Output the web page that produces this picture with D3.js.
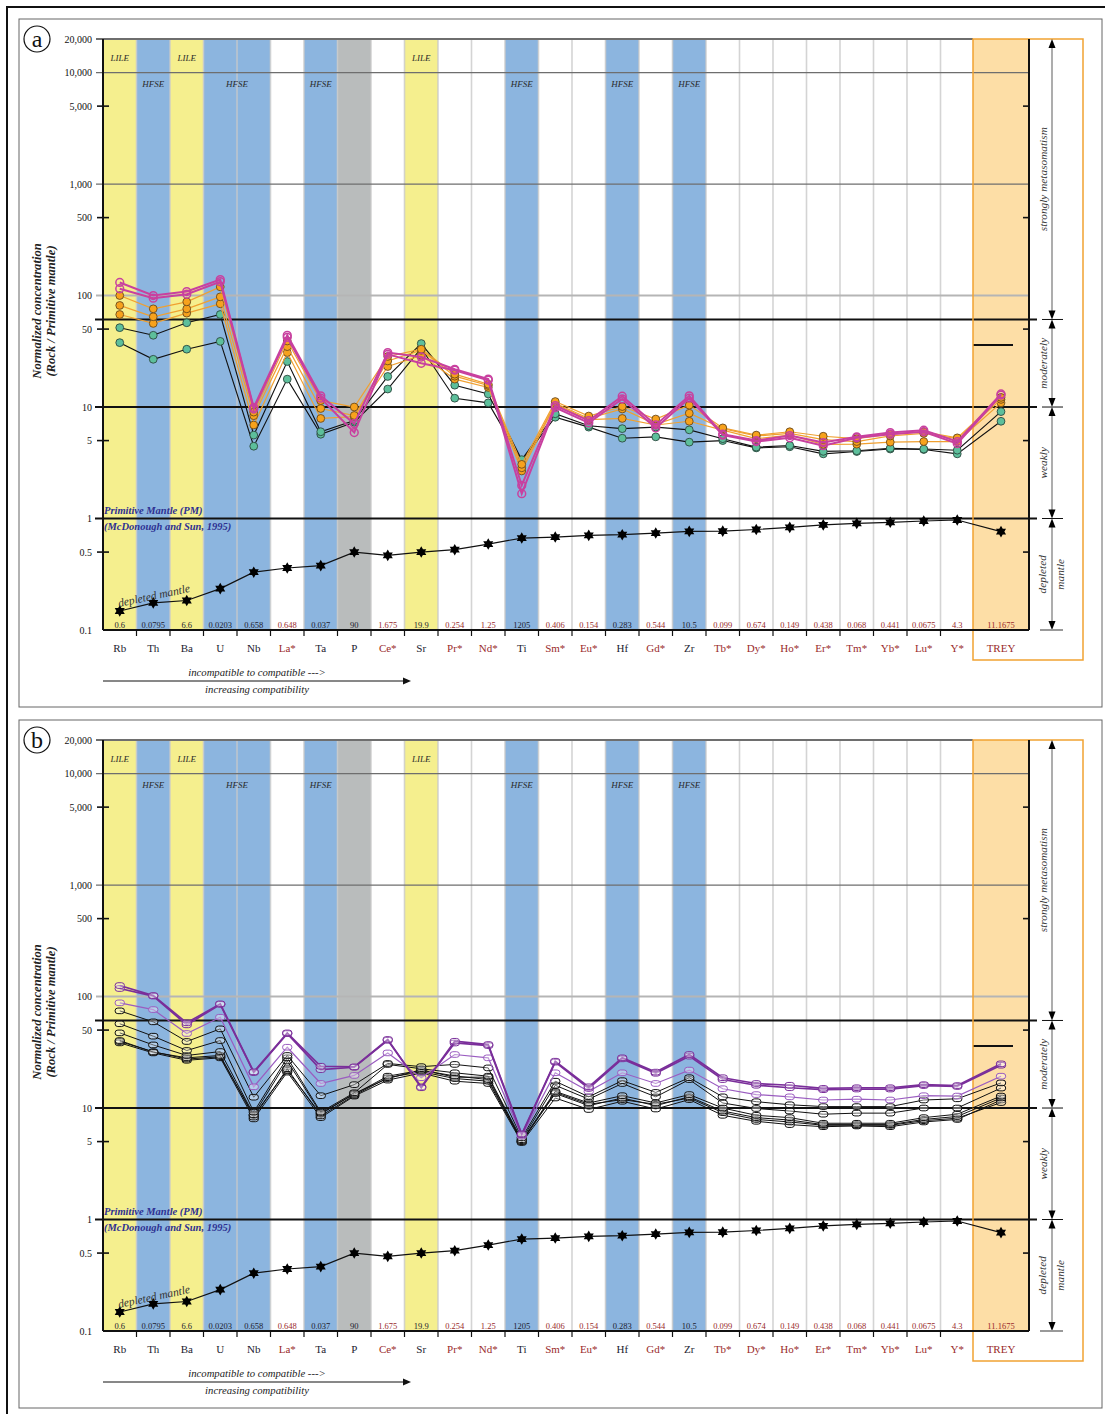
<!DOCTYPE html>
<html>
<head>
<meta charset="utf-8">
<script src="https://cdn.jsdelivr.net/npm/d3@7"></script>
<style>
  body { margin: 0; background: #fff; }
  svg { display: block; }
  text { font-family: "Liberation Serif", "Times New Roman", serif; }
</style>
</head>
<body>
<svg id="chart" width="1105" height="1414"></svg>
<script>
// ---- categories -------------------------------------------------------
const elements = ["Rb","Th","Ba","U","Nb","La*","Ta","P","Ce*","Sr","Pr*","Nd*","Ti","Sm*","Eu*","Hf","Gd*","Zr","Tb*","Dy*","Ho*","Er*","Tm*","Yb*","Lu*","Y*"];
const totalCategory = "TREY";
const allCategories = elements.concat([totalCategory]);

// primitive-mantle normalising values (McDonough & Sun, 1995)
const normLabels = ["0.6","0.0795","6.6","0.0203","0.658","0.648","0.037","90","1.675","19.9","0.254","1.25","1205","0.406","0.154","0.283","0.544","10.5","0.099","0.674","0.149","0.438","0.068","0.441","0.0675","4.3","11.1675"];

// element group of each column
const columnGroups = ["LILE","HFSE","LILE","HFSE","HFSE","","HFSE","P","","LILE","","","HFSE","","","HFSE","","HFSE","","","","","","","",""];

// group captions: [text, first column, last column, row]
const groupCaptions = [
  ["LILE","Rb","Rb",0], ["HFSE","Th","Th",1], ["LILE","Ba","Ba",0],
  ["HFSE","U","Nb",1], ["HFSE","Ta","Ta",1], ["LILE","Sr","Sr",0],
  ["HFSE","Ti","Ti",1], ["HFSE","Hf","Hf",1], ["HFSE","Zr","Zr",1]
];

// y axis
const yTicks = [0.1,0.5,1,5,10,50,100,500,1000,5000,10000,20000];
const yTickLabels = ["0.1","0.5","1","5","10","50","100","500","1,000","5,000","10,000","20,000"];
const yGridValues = [1000,10000];
const yMinorTicks = [0.5,5,50,500,5000];

// metasomatism classes (boundaries)
const classBounds = [20000, 61, 10, 1, 0.1];
const treyMarkValue = 36;

// depleted mantle reference pattern
const depletedMantle = [0.148,0.175,0.184,0.235,0.33,0.36,0.378,0.50,0.467,0.50,0.525,0.59,0.668,0.682,0.706,0.716,0.741,0.766,0.77,0.797,0.833,0.877,0.905,0.925,0.95,0.97,0.762];

// ---- panel (a) samples --------------------------------------------------
const magentaA1 = [131,100,108.6,139,9.9,44,12.6,7.1,30.8,28.1,21.8,17.8,1.98,10.3,7.55,12.5,6.9,12.6,5.7,5.0,5.55,4.8,5.4,5.9,6.2,4.9,13.1];
const magentaA2 = [115,94.6,102.7,133,9.6,42.2,12.0,5.9,29.7,24.7,21.4,17.4,1.67,9.9,7.2,11.8,6.5,12.0,5.6,4.9,5.3,4.5,5.3,5.7,6.0,4.7,12.8];
const orangeA1 = [100,76,87.8,119.6,9.0,39.1,11.4,10.0,28.4,33,19.7,16.0,3.06,11.2,8.3,10.1,7.8,10.4,6.5,5.6,6.0,5.47,5.2,5.7,6.0,5.29,12.2];
const orangeA2 = [81.5,64.5,76,97.3,8.36,34.8,9.7,8.4,25.9,32.3,18.9,15.6,2.85,10.8,7.9,9.6,7.0,8.8,6.4,5.5,5.8,5.1,4.9,5.5,5.8,5.2,11.7];
const orangeA3 = [67.6,56.2,69.5,84.3,6.9,30.8,7.9,8.2,23.1,29.1,17.8,15.0,2.67,10.6,7.7,7.9,6.9,7.45,6.2,5.2,5.6,4.62,4.64,4.84,4.9,4.9,10.9];
const tealA1 = [51.5,44,57,67.6,5.6,25.6,6.0,7.55,18.8,37.1,15.7,13.1,3.37,8.7,6.8,6.4,6.6,6.24,5.2,4.37,4.52,4.0,4.05,4.27,4.2,4.1,9.1];
const tealA2 = [37.8,26.8,33,38.8,4.45,17.8,5.7,7.3,14.5,33.8,12.0,10.9,3.3,8.1,6.6,5.25,5.4,4.84,5.0,4.3,4.4,3.8,3.99,4.2,4.16,3.8,7.45];

// ---- panel (b) samples --------------------------------------------------
const purpleB1 = [125.5,102,58.1,86,21.1,47.2,23.7,23.4,41.2,15.2,39.7,37.1,5.85,26.3,15.5,28.2,21.0,30.2,18.7,16.6,16.0,15.0,15.2,15.2,16.2,15.9,24.9];
const purpleB2 = [118,101,55.7,85,20.8,46.5,22.1,23.2,40.5,15.5,38.3,36.3,5.75,25.8,15.0,27.6,20.5,29.2,18.0,16.0,15.2,14.6,14.8,14.8,15.9,15.6,24.2];
const purpleB3 = [87.8,76.4,46.6,65.2,15.5,35.1,16.6,19.6,31.2,18.7,30.2,28.2,5.6,20.7,14.1,20.7,16.6,21.9,14.9,13.2,12.6,11.8,12.0,11.8,12.9,12.8,19.3];
const blackB1 = [74.4,59.3,39.5,51.3,12.5,29.6,12.9,16.2,25.1,23.5,24.6,22.9,5.4,17.4,12.6,17.6,13.8,18.7,12.6,11.4,10.7,10.3,10.3,10.3,11.8,12.1,16.8];
const blackB2 = [57,44.1,32.8,40.3,9.2,28.2,9.2,13.7,24.6,22.5,20.7,19.3,5.2,16.0,12.0,16.6,12.6,18.0,11.1,9.9,9.4,8.8,9.0,9.0,10,10,15.1];
const blackB3 = [47.2,36.8,29.6,32.1,8.7,26.4,9.0,13.3,19.3,21.8,19.4,18.0,5.1,14.1,11.1,12.9,11.1,13.2,10.0,8.6,8.2,7.3,7.3,7.3,8.2,8.8,12.8];
const blackB4 = [40.3,31.7,28.2,29.6,8.3,22.5,8.5,13.0,18.7,21.2,18.4,17.4,5.0,13.5,10.5,12.3,10.5,12.6,9.4,8.2,7.8,7.1,7.1,7.1,7.9,8.4,12.3];
const blackB5 = [38.4,31.2,26.8,28.2,7.99,21.0,8.2,12.8,17.8,20.6,17.4,16.6,4.9,12.3,9.7,11.5,9.8,11.9,8.6,7.6,7.1,6.8,6.9,6.8,7.5,7.9,11.8];
const blackB6 = [39.5,32,27.5,28.8,8.6,21.7,8.8,13.5,18.4,22,18.9,18.9,5.0,13.8,10.8,11.9,10.8,12.3,9.1,7.9,7.5,7.0,7.0,7.0,7.7,8.1,11.2];

// ---- styles ---------------------------------------------------------------
const groupFill = { LILE: "#f5ef8e", HFSE: "#8cb5df", P: "#b9bcbc", "": "#ffffff" };
const redText = "#9a2b2b", darkText = "#1c1c30", navy = "#2e3192";

const panelA = [
  { values: tealA2, line: "#111", width: 1.1, marker: "circle", fill: "#5dbf9b", stroke: "#2d4a3f" },
  { values: tealA1, line: "#111", width: 1.1, marker: "circle", fill: "#5dbf9b", stroke: "#2d4a3f" },
  { values: orangeA3, line: "#f0a030", width: 1.2, marker: "circle", fill: "#f7a21c", stroke: "#6b4a1c" },
  { values: orangeA2, line: "#f0a030", width: 1.2, marker: "circle", fill: "#f7a21c", stroke: "#6b4a1c" },
  { values: orangeA1, line: "#f0a030", width: 1.2, marker: "circle", fill: "#f7a21c", stroke: "#6b4a1c" },
  { values: magentaA2, line: "#c8409f", width: 2, marker: "ring", fill: "none", stroke: "#c8409f" },
  { values: magentaA1, line: "#c8409f", width: 2, marker: "ring", fill: "none", stroke: "#c8409f" }
];
const panelB = [
  { values: blackB5, line: "#111", width: 1, marker: "pill", fill: "rgba(255,255,255,0.35)", stroke: "#111" },
  { values: blackB6, line: "#111", width: 1, marker: "pill", fill: "rgba(255,255,255,0.35)", stroke: "#111" },
  { values: blackB4, line: "#111", width: 1, marker: "pill", fill: "rgba(255,255,255,0.35)", stroke: "#111" },
  { values: blackB3, line: "#111", width: 1, marker: "pill", fill: "rgba(255,255,255,0.35)", stroke: "#111" },
  { values: blackB2, line: "#111", width: 1, marker: "pill", fill: "rgba(255,255,255,0.35)", stroke: "#111" },
  { values: blackB1, line: "#111", width: 1, marker: "pill", fill: "rgba(255,255,255,0.35)", stroke: "#111" },
  { values: purpleB3, line: "#9a5cc0", width: 1.2, marker: "pill", fill: "rgba(255,255,255,0.35)", stroke: "#9a5cc0" },
  { values: purpleB2, line: "#7a2e9a", width: 1.7, marker: "pill", fill: "rgba(255,255,255,0.35)", stroke: "#7a2e9a" },
  { values: purpleB1, line: "#7a2e9a", width: 1.7, marker: "pill", fill: "rgba(255,255,255,0.35)", stroke: "#7a2e9a" }
];

const svg = d3.select("#chart");

// figure border
svg.append("path").attr("d", "M7,1414 V7 H1105").attr("fill", "none").attr("stroke", "#111").attr("stroke-width", 2);

// six-pointed star used for the depleted-mantle pattern
function hexagram(r) {
  const tri = a0 => [0,1,2].map(k => {
    const a = (a0 + k * 120) * Math.PI / 180;
    return [r * Math.cos(a), r * Math.sin(a)];
  });
  const p = t => "M" + t.map(q => q.join(",")).join("L") + "Z";
  return p(tri(-90)) + p(tri(90));
}

function drawPanel(offset, series, letter) {
  const g = svg.append("g").attr("transform", `translate(0,${offset})`);

  // frame
  g.append("rect").attr("x", 19).attr("y", 19).attr("width", 1083).attr("height", 688)
    .attr("fill", "none").attr("stroke", "#666").attr("stroke-width", 1);

  const y = d3.scaleLog().domain([0.1, 20000]).range([630, 39]);
  const x = d3.scaleBand().domain(elements).range([103, 974]);
  const xT = d3.scaleBand().domain([totalCategory]).range([973, 1029]);
  const cx = k => k === totalCategory ? xT(k) + xT.bandwidth() / 2 : x(k) + x.bandwidth() / 2;
  const top = y(20000), bottom = y(0.1);

  // column backgrounds
  g.selectAll("rect.col").data(elements).join("rect")
    .attr("x", d => x(d)).attr("y", top).attr("width", x.bandwidth()).attr("height", bottom - top)
    .attr("fill", (d, i) => groupFill[columnGroups[i]]);
  g.append("rect").attr("x", xT(totalCategory)).attr("y", top).attr("width", xT.bandwidth()).attr("height", bottom - top)
    .attr("fill", "#fddea6");

  // column separators
  g.selectAll("line.sep").data(elements.slice(1)).join("line")
    .attr("x1", d => x(d)).attr("x2", d => x(d)).attr("y1", top).attr("y2", bottom)
    .attr("stroke", "#c9c9c9").attr("stroke-opacity", 0.8).attr("stroke-width", 1.6);

  // grid lines
  g.selectAll("line.grid").data(yGridValues).join("line")
    .attr("x1", 96).attr("x2", 1029).attr("y1", d => y(d)).attr("y2", d => y(d))
    .attr("stroke", "#6e6e6e").attr("stroke-width", 1.2);
  g.append("line").attr("x1", 96).attr("x2", 1029).attr("y1", y(100)).attr("y2", y(100))
    .attr("stroke", "#b5b5b5").attr("stroke-width", 2);
  g.append("line").attr("x1", 96).attr("x2", 973).attr("y1", y(20000)).attr("y2", y(20000))
    .attr("stroke", "#6e6e6e").attr("stroke-width", 2);

  // class boundaries
  g.selectAll("line.bound").data(classBounds.slice(1, 4)).join("line")
    .attr("x1", 95).attr("x2", 1037).attr("y1", d => y(d)).attr("y2", d => y(d))
    .attr("stroke", "#111").attr("stroke-width", 2);
  g.append("line").attr("x1", 973).attr("x2", 1013).attr("y1", y(treyMarkValue)).attr("y2", y(treyMarkValue))
    .attr("stroke", "#111").attr("stroke-width", 2.2);

  // TREY outline box
  g.append("rect").attr("x", 973).attr("y", top).attr("width", 110).attr("height", 660 - top)
    .attr("fill", "none").attr("stroke", "#f1a232").attr("stroke-width", 1.5);

  // group captions
  g.selectAll("text.cap").data(groupCaptions).join("text")
    .attr("x", d => (x(d[1]) + x(d[2]) + x.bandwidth()) / 2)
    .attr("y", d => d[3] === 0 ? 61 : 87)
    .attr("text-anchor", "middle").attr("font-size", 9).attr("font-style", "italic")
    .attr("fill", "#2a2a2a").text(d => d[0]);

  // primitive mantle note
  g.append("text").attr("x", 104).attr("y", 514).attr("font-size", 10.5).attr("font-weight", "bold")
    .attr("font-style", "italic").attr("fill", navy).text("Primitive Mantle (PM)");
  g.append("text").attr("x", 104).attr("y", 530).attr("font-size", 10.5).attr("font-weight", "bold")
    .attr("font-style", "italic").attr("fill", navy).text("(McDonough and Sun, 1995)");

  // depleted mantle pattern
  const line = d3.line().x((d, i) => cx(allCategories[i])).y(d => y(d));
  g.append("path").datum(depletedMantle).attr("d", line).attr("fill", "none")
    .attr("stroke", "#111").attr("stroke-width", 1.2);
  g.selectAll("path.dm").data(depletedMantle).join("path")
    .attr("transform", (d, i) => `translate(${cx(allCategories[i])},${y(d)})`)
    .attr("d", hexagram(5.8)).attr("fill", "#000");
  g.append("text").attr("transform", "translate(119,607) rotate(-12)")
    .attr("font-size", 11.5).attr("font-style", "italic").attr("fill", "#333").text("depleted mantle");

  // samples
  series.forEach(s => {
    g.append("path").datum(s.values).attr("d", line).attr("fill", "none")
      .attr("stroke", s.line).attr("stroke-width", s.width);
    const m = g.append("g");
    s.values.forEach((v, i) => {
      const px = cx(allCategories[i]), py = y(v);
      if (s.marker === "pill") {
        m.append("rect").attr("x", px - 4.7).attr("y", py - 2.8).attr("width", 9.4).attr("height", 5.6)
          .attr("rx", 2.8).attr("fill", s.fill).attr("stroke", s.stroke).attr("stroke-width", 1);
      } else {
        m.append("circle").attr("cx", px).attr("cy", py).attr("r", 3.9)
          .attr("fill", s.fill).attr("stroke", s.stroke)
          .attr("stroke-width", s.marker === "ring" ? 1.5 : 0.9);
      }
    });
  });

  // axes frame lines
  g.append("line").attr("x1", 103).attr("x2", 103).attr("y1", top).attr("y2", bottom).attr("stroke", "#111").attr("stroke-width", 2);
  g.append("line").attr("x1", 1029).attr("x2", 1029).attr("y1", top).attr("y2", bottom).attr("stroke", "#111").attr("stroke-width", 2);
  g.append("line").attr("x1", 103).attr("x2", 1029).attr("y1", bottom).attr("y2", bottom).attr("stroke", "#111").attr("stroke-width", 2);

  // left axis
  const yAxis = d3.axisLeft(y).tickValues(yTicks).tickSize(0).tickPadding(11)
    .tickFormat(d => yTickLabels[yTicks.indexOf(d)]);
  const ya = g.append("g").attr("transform", "translate(103,0)").call(yAxis);
  ya.select(".domain").remove();
  ya.selectAll("text").attr("font-family", "Liberation Serif, serif").attr("font-size", 10).attr("fill", "#111");
  g.selectAll("line.mt").data(yMinorTicks).join("line")
    .attr("x1", 97).attr("x2", 109).attr("y1", d => y(d)).attr("y2", d => y(d))
    .attr("stroke", "#111").attr("stroke-width", 1.6);
  g.selectAll("line.rt").data(yMinorTicks).join("line")
    .attr("x1", 1023).attr("x2", 1029).attr("y1", d => y(d)).attr("y2", d => y(d))
    .attr("stroke", "#111").attr("stroke-width", 1.6);

  // bottom ticks at column boundaries
  g.selectAll("line.bt").data(elements.slice(1)).join("line")
    .attr("x1", d => x(d)).attr("x2", d => x(d)).attr("y1", bottom).attr("y2", bottom + 6)
    .attr("stroke", "#111").attr("stroke-width", 1.2);

  // normalising values and element names
  const isRed = k => k.includes("*") || k === totalCategory;
  g.selectAll("text.norm").data(allCategories).join("text")
    .attr("x", d => cx(d)).attr("y", 628).attr("text-anchor", "middle").attr("font-size", 8.5)
    .attr("fill", d => isRed(d) ? redText : darkText).text((d, i) => normLabels[i]);
  g.selectAll("text.el").data(allCategories).join("text")
    .attr("x", d => cx(d)).attr("y", 652).attr("text-anchor", "middle").attr("font-size", 11)
    .attr("fill", d => isRed(d) ? redText : darkText).text(d => d);

  // compatibility note
  g.append("text").attr("x", 257).attr("y", 676).attr("text-anchor", "middle").attr("font-size", 10.7)
    .attr("font-style", "italic").attr("fill", "#222").text("incompatible to compatible  --->");
  g.append("line").attr("x1", 103).attr("x2", 404).attr("y1", 681).attr("y2", 681).attr("stroke", "#111").attr("stroke-width", 1);
  g.append("path").attr("d", "M411,681 L403,677.5 L403,684.5 Z").attr("fill", "#111");
  g.append("text").attr("x", 257).attr("y", 693).attr("text-anchor", "middle").attr("font-size", 10.7)
    .attr("font-style", "italic").attr("fill", "#222").text("increasing compatibility");

  // y title
  g.append("text").attr("transform", "translate(41,311) rotate(-90)").attr("text-anchor", "middle")
    .attr("font-size", 12.6).attr("font-weight", "bold").attr("font-style", "italic").attr("fill", "#222")
    .text("Normalized concentration");
  g.append("text").attr("transform", "translate(55,311) rotate(-90)").attr("text-anchor", "middle")
    .attr("font-size", 12.6).attr("font-weight", "bold").attr("font-style", "italic").attr("fill", "#222")
    .text("(Rock / Primitive mantle)");

  // metasomatism classes on the right
  const ax = 1052;
  for (let i = 0; i < classBounds.length - 1; i++) {
    const y0 = y(classBounds[i]), y1 = y(classBounds[i + 1]);
    g.append("line").attr("x1", ax).attr("x2", ax).attr("y1", y0 + 6).attr("y2", y1 - 6)
      .attr("stroke", "#8a8a8a").attr("stroke-width", 1.4);
    g.append("path").attr("d", `M${ax},${y0} L${ax - 3.5},${y0 + 9} L${ax + 3.5},${y0 + 9} Z`).attr("fill", "#000");
    g.append("path").attr("d", `M${ax},${y1} L${ax - 3.5},${y1 - 9} L${ax + 3.5},${y1 - 9} Z`).attr("fill", "#000");
  }
  g.selectAll("line.cb").data(classBounds.slice(1, 4)).join("line")
    .attr("x1", 1042).attr("x2", 1063).attr("y1", d => y(d)).attr("y2", d => y(d))
    .attr("stroke", "#111").attr("stroke-width", 1);
  g.append("line").attr("x1", 1040).attr("x2", 1063).attr("y1", bottom).attr("y2", bottom)
    .attr("stroke", "#999").attr("stroke-width", 2);
  const classText = (tx, ty, s) => g.append("text").attr("transform", `translate(${tx},${ty}) rotate(-90)`)
    .attr("text-anchor", "middle").attr("dominant-baseline", "central").attr("font-size", 11.3)
    .attr("font-style", "italic").attr("fill", "#333").text(s);
  classText(1043, (y(20000) + y(61)) / 2, "strongly metasomatism");
  classText(1043, (y(61) + y(10)) / 2, "moderately");
  classText(1043, (y(10) + y(1)) / 2, "weakly");
  classText(1042, (y(1) + y(0.1)) / 2, "depleted");
  classText(1060, (y(1) + y(0.1)) / 2, "mantle");

  // panel letter
  g.append("circle").attr("cx", 37).attr("cy", 39).attr("r", 13).attr("fill", "#fff")
    .attr("stroke", "#111").attr("stroke-width", 1.2);
  g.append("text").attr("x", 37).attr("y", 39).attr("text-anchor", "middle").attr("dominant-baseline", "central")
    .attr("font-size", 24).attr("fill", "#111").text(letter);
}

drawPanel(0, panelA, "a");
drawPanel(701, panelB, "b");
</script>
</body>
</html>
